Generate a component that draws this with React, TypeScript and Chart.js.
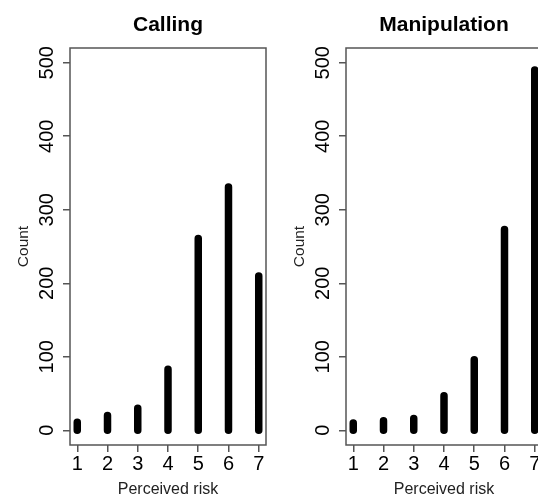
import React, { useEffect, useRef } from 'react';
import { Chart, registerables } from 'chart.js';

Chart.register(...registerables);

const categories = [1, 2, 3, 4, 5, 6, 7];
const callingCounts = [11, 20, 30, 83, 261, 331, 210];
const manipulationCounts = [10, 13, 16, 47, 96, 273, 490];
const yTicks = [0, 100, 200, 300, 400, 500];
const xTitle = 'Perceived risk';
const yTitle = 'Count';

const FONT = "'Liberation Sans', Arial, sans-serif";

function Panel({ title, values }: { title: string; values: number[] }) {
  const ref = useRef<HTMLCanvasElement | null>(null);

  useEffect(() => {
    if (!ref.current) return;
    const data: any[] = categories.flatMap((c, i) => [
      { x: c, y: 0 },
      { x: c, y: values[i] },
      { x: c, y: null },
    ]);

    const rPlugin = {
      id: 'rbox',
      afterDraw(chart: any) {
        const { ctx, chartArea: a, scales } = chart;
        ctx.save();
        ctx.strokeStyle = '#555';
        ctx.lineWidth = 1.5;
        ctx.strokeRect(a.left, a.top, a.right - a.left, a.bottom - a.top);

        ctx.fillStyle = '#000';
        ctx.font = `bold 21px ${FONT}`;
        ctx.textAlign = 'center';
        ctx.textBaseline = 'alphabetic';
        ctx.fillText(title, (a.left + a.right) / 2, 30.5);

        const ys = scales.y;
        ctx.font = `20px ${FONT}`;
        ys.ticks.forEach((t: any) => {
          const py = ys.getPixelForValue(t.value);
          ctx.save();
          ctx.translate(a.left - 24, py);
          ctx.rotate(-Math.PI / 2);
          ctx.fillText(String(t.value), 0, 7.2);
          ctx.restore();
        });
        ctx.restore();
      },
    };

    const chart = new Chart(ref.current, {
      type: 'line',
      data: {
        datasets: [
          {
            data,
            borderColor: '#000',
            backgroundColor: '#000',
            borderWidth: 7.5,
            borderCapStyle: 'round',
            pointRadius: 0,
            pointHoverRadius: 0,
            spanGaps: false,
            fill: false,
            tension: 0,
          } as any,
        ],
      },
      options: {
        responsive: false,
        maintainAspectRatio: false,
        animation: false,
        events: [],
        layout: { padding: { top: 48, left: 0, right: 10, bottom: 0 } },
        plugins: {
          legend: { display: false },
          tooltip: { enabled: false },
          title: { display: false },
        },
        scales: {
          x: {
            type: 'linear',
            min: 0.76,
            max: 7.24,
            afterBuildTicks: (s: any) => {
              s.ticks = categories.map((v) => ({ value: v }));
            },
            afterFit: (s: any) => {
              s.height = 54;
            },
            ticks: {
              font: { family: FONT, size: 20 },
              color: '#000',
              padding: 0,
              autoSkip: false,
              maxRotation: 0,
              minRotation: 0,
            },
            grid: {
              drawOnChartArea: false,
              drawTicks: true,
              tickLength: 7,
              color: '#555',
              lineWidth: 1.5,
            },
            border: { display: false },
            title: {
              display: true,
              text: xTitle,
              font: { family: FONT, size: 16 },
              color: '#222',
              padding: { top: 0, bottom: 0 },
            },
          },
          y: {
            type: 'linear',
            min: -20,
            max: 520,
            afterBuildTicks: (s: any) => {
              s.ticks = yTicks.map((v) => ({ value: v }));
            },
            afterFit: (s: any) => {
              s.width = 70;
            },
            ticks: { display: false },
            grid: {
              drawOnChartArea: false,
              drawTicks: true,
              tickLength: 7,
              color: '#555',
              lineWidth: 1.5,
            },
            border: { display: false },
            title: {
              display: true,
              text: yTitle,
              font: { family: FONT, size: 15.5 },
              color: '#222',
              padding: { top: 14.5, bottom: 0 },
            },
          },
        },
      } as any,
      plugins: [rPlugin],
    });
    return () => chart.destroy();
  }, [title, values]);

  return <canvas ref={ref} width={276} height={499} style={{ display: 'block', width: 276, height: 499 }} />;
}

export default function App() {
  return (
    <div
      style={{
        position: 'absolute',
        left: 0,
        top: 0,
        width: 538,
        height: 497,
        overflow: 'hidden',
        background: '#fff',
      }}
    >
      <div style={{ position: 'absolute', left: 0, top: 0 }}>
        <Panel title="Calling" values={callingCounts} />
      </div>
      <div style={{ position: 'absolute', left: 276, top: 0 }}>
        <Panel title="Manipulation" values={manipulationCounts} />
      </div>
    </div>
  );
}
